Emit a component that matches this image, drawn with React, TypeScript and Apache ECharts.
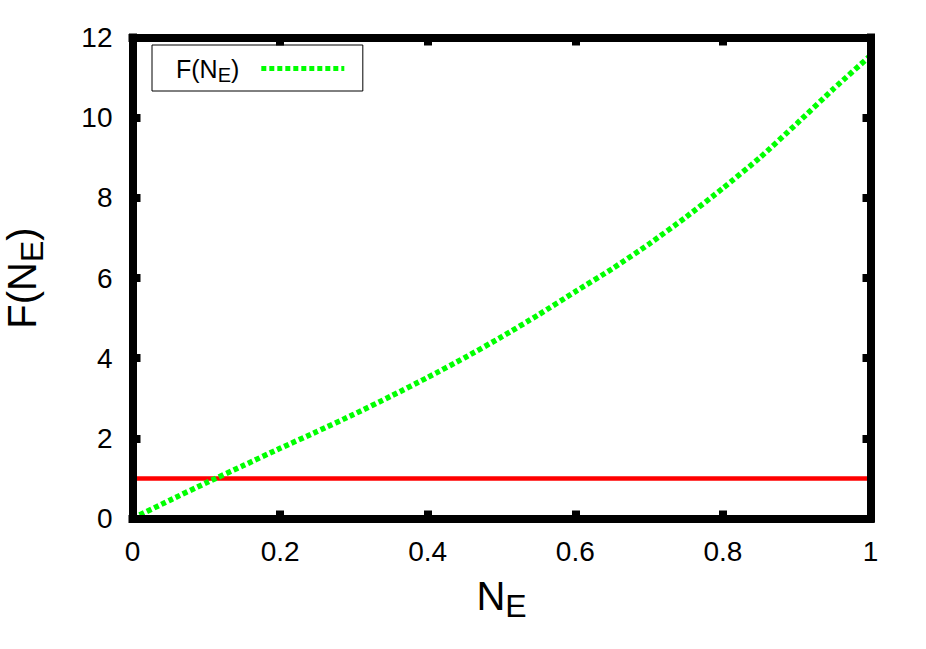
import React, { useEffect, useRef } from "react";
import * as echarts from "echarts";

const xValues = [0, 0.05, 0.1, 0.15, 0.2, 0.25, 0.3, 0.35, 0.4, 0.45, 0.5, 0.55, 0.6, 0.65, 0.7, 0.75, 0.8, 0.85, 0.9, 0.95, 1.0];
const fValues = [0, 0.45, 0.89, 1.32, 1.75, 2.17, 2.6, 3.05, 3.52, 4.01, 4.53, 5.08, 5.66, 6.23, 6.85, 7.52, 8.24, 9.0, 9.85, 10.72, 11.55];
const refX = [0, 1];
const refY = [1, 1];
const seriesName = "F(N_E)";

const FONT = "Liberation Sans, Arial, Helvetica, sans-serif";

export default function App() {
  const ref = useRef<HTMLDivElement>(null);
  useEffect(() => {
    if (!ref.current) return;
    const chart = echarts.init(ref.current, undefined, { renderer: "svg" });
    const frameLine = { show: true, onZero: false, lineStyle: { color: "#000", width: 8, cap: "square" } };
    const tick = { show: true, inside: true, length: 8, lineStyle: { color: "#000", width: 8 } };
    const option: any = {
      animation: false,
      backgroundColor: "#fff",
      textStyle: { fontFamily: FONT, color: "#000" },
      grid: { left: 132.5, right: 55.5, top: 37.5, bottom: 130.5, outerBoundsMode: "none" },
      legend: {
        data: [seriesName],
        left: 152,
        top: 45,
        orient: "vertical",
        align: "right",
        padding: [7, 16, 6, 24],
        itemWidth: 83,
        itemHeight: 25,
        borderColor: "#000",
        borderWidth: 1,
        borderRadius: 0,
        backgroundColor: "#fff",
        itemStyle: { color: "rgba(0,0,0,0)", borderWidth: 0, opacity: 0 },
        lineStyle: { color: "#00ff00", width: 5, type: [5, 3], cap: "butt" },
        formatter: () => "{n|F(N}{s|E}{n|)}",
        textStyle: {
          fontFamily: FONT,
          padding: [0, 17, 0, 0],
          rich: {
            n: { fontSize: 25, fontFamily: FONT, color: "#000", lineHeight: 26 },
            s: { fontSize: 20, fontFamily: FONT, color: "#000", lineHeight: 26, padding: [13, 0, 0, 0] },
          },
        },
      },
      xAxis: [
        {
          type: "value",
          min: 0,
          max: 1,
          interval: 0.2,
          position: "bottom",
          z: 10,
          axisLine: frameLine,
          axisTick: tick,
          splitLine: { show: false },
          axisLabel: { fontSize: 28, color: "#000", fontFamily: FONT, margin: 19 },
          name: "{n|N}{s|E}",
          nameLocation: "middle",
          nameGap: 46,
          nameTextStyle: {
            rich: {
              n: { fontSize: 40, fontFamily: FONT, color: "#000", lineHeight: 44 },
              s: { fontSize: 32, fontFamily: FONT, color: "#000", lineHeight: 44, padding: [20, 0, 0, 0] },
            },
          },
        },
        {
          type: "value",
          min: 0,
          max: 1,
          interval: 0.2,
          position: "top",
          z: 10,
          axisLine: frameLine,
          axisTick: tick,
          splitLine: { show: false },
          axisLabel: { show: false },
        },
      ],
      yAxis: [
        {
          type: "value",
          min: 0,
          max: 12,
          interval: 2,
          position: "left",
          z: 10,
          axisLine: frameLine,
          axisTick: tick,
          splitLine: { show: false },
          axisLabel: { fontSize: 28, color: "#000", fontFamily: FONT, margin: 20 },
          name: "{n|F(N}{s|E}{n|)}",
          nameLocation: "middle",
          nameGap: 89,
          nameRotate: 90,
          nameTextStyle: {
            rich: {
              n: { fontSize: 40, fontFamily: FONT, color: "#000", lineHeight: 44 },
              s: { fontSize: 32, fontFamily: FONT, color: "#000", lineHeight: 44, padding: [20, 0, 0, 0] },
            },
          },
        },
        {
          type: "value",
          min: 0,
          max: 12,
          interval: 2,
          position: "right",
          z: 10,
          axisLine: frameLine,
          axisTick: tick,
          splitLine: { show: false },
          axisLabel: { show: false },
        },
      ],
      series: [
        {
          name: seriesName,
          type: "line",
          xAxisIndex: 0,
          yAxisIndex: 0,
          data: xValues.map((x, i) => [x, fValues[i]]),
          symbol: "none",
          smooth: 0.2,
          color: "#00ff00",
          lineStyle: { color: "#00ff00", width: 5.5, type: [5, 3], cap: "butt" },
          z: 3,
        },
        {
          name: "ref",
          type: "line",
          xAxisIndex: 0,
          yAxisIndex: 0,
          data: refX.map((x, i) => [x, refY[i]]),
          symbol: "none",
          color: "#ff0000",
          lineStyle: { color: "#ff0000", width: 4.5 },
          z: 2,
        },
      ],
    };
    chart.setOption(option);
    return () => chart.dispose();
  }, []);
  return <div ref={ref} style={{ width: 926, height: 649, position: "absolute", left: 0, top: 0 }} />;
}
